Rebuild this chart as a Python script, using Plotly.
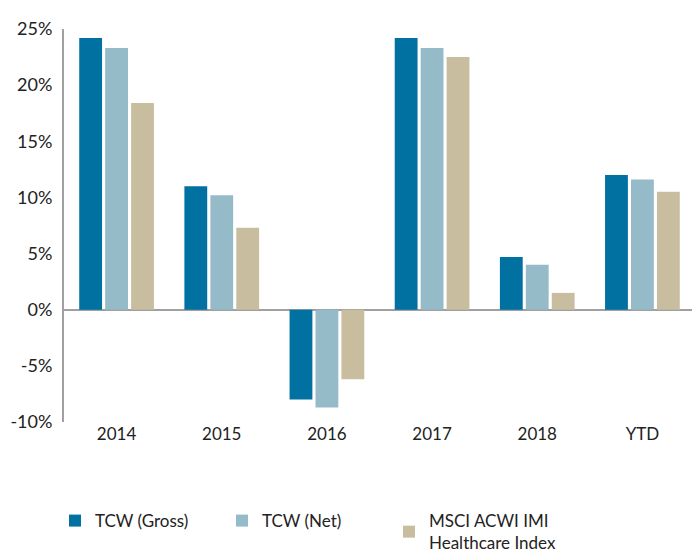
import plotly.graph_objects as go

categories = ["2014", "2015", "2016", "2017", "2018", "YTD"]
tcw_gross = [24.2, 11.0, -8.0, 24.2, 4.7, 12.0]
tcw_net = [23.3, 10.2, -8.7, 23.3, 4.0, 11.6]
msci = [18.4, 7.3, -6.2, 22.5, 1.5, 10.5]
series_names = ["TCW (Gross)", "TCW (Net)", "MSCI ACWI IMI<br>Healthcare Index"]
colors = ["#0071A1", "#95BBC9", "#C8BE9F"]
tick_vals = [-10, -5, 0, 5, 10, 15, 20, 25]
tick_text = ["-10%", "-5%", "0%", "5%", "10%", "15%", "20%", "25%"]

fig = go.Figure()
for name, vals, c in zip(series_names, [tcw_gross, tcw_net, msci], colors):
    fig.add_trace(go.Bar(x=categories, y=vals, name=name, marker=dict(color=c, line=dict(width=0))))

fig.update_layout(
    width=700, height=560,
    margin=dict(l=56, r=13, t=21, b=146, autoexpand=False),
    plot_bgcolor="white", paper_bgcolor="white",
    barmode="group", bargap=0.26, bargroupgap=0.12,
    font=dict(family="Lato, Open Sans, sans-serif", size=18, color="#222"),
    xaxis=dict(showline=False, ticks="", tickfont=dict(size=17), automargin=False),
    yaxis=dict(range=[-10, 25], tickvals=tick_vals, ticktext=tick_text, showgrid=False,
               showline=True, linecolor="#a0a0a0", linewidth=2,
               zeroline=True, zerolinecolor="#a0a0a0", zerolinewidth=2,
               ticks="", ticklabelstandoff=6, automargin=False),
    legend=dict(orientation="h", x=-0.0143, xanchor="left", y=-0.28, yanchor="middle",
                entrywidth=122, entrywidthmode="pixels", font=dict(size=17),
                itemsizing="constant"),
    showlegend=True,
)
fig.write_html("out.html")
